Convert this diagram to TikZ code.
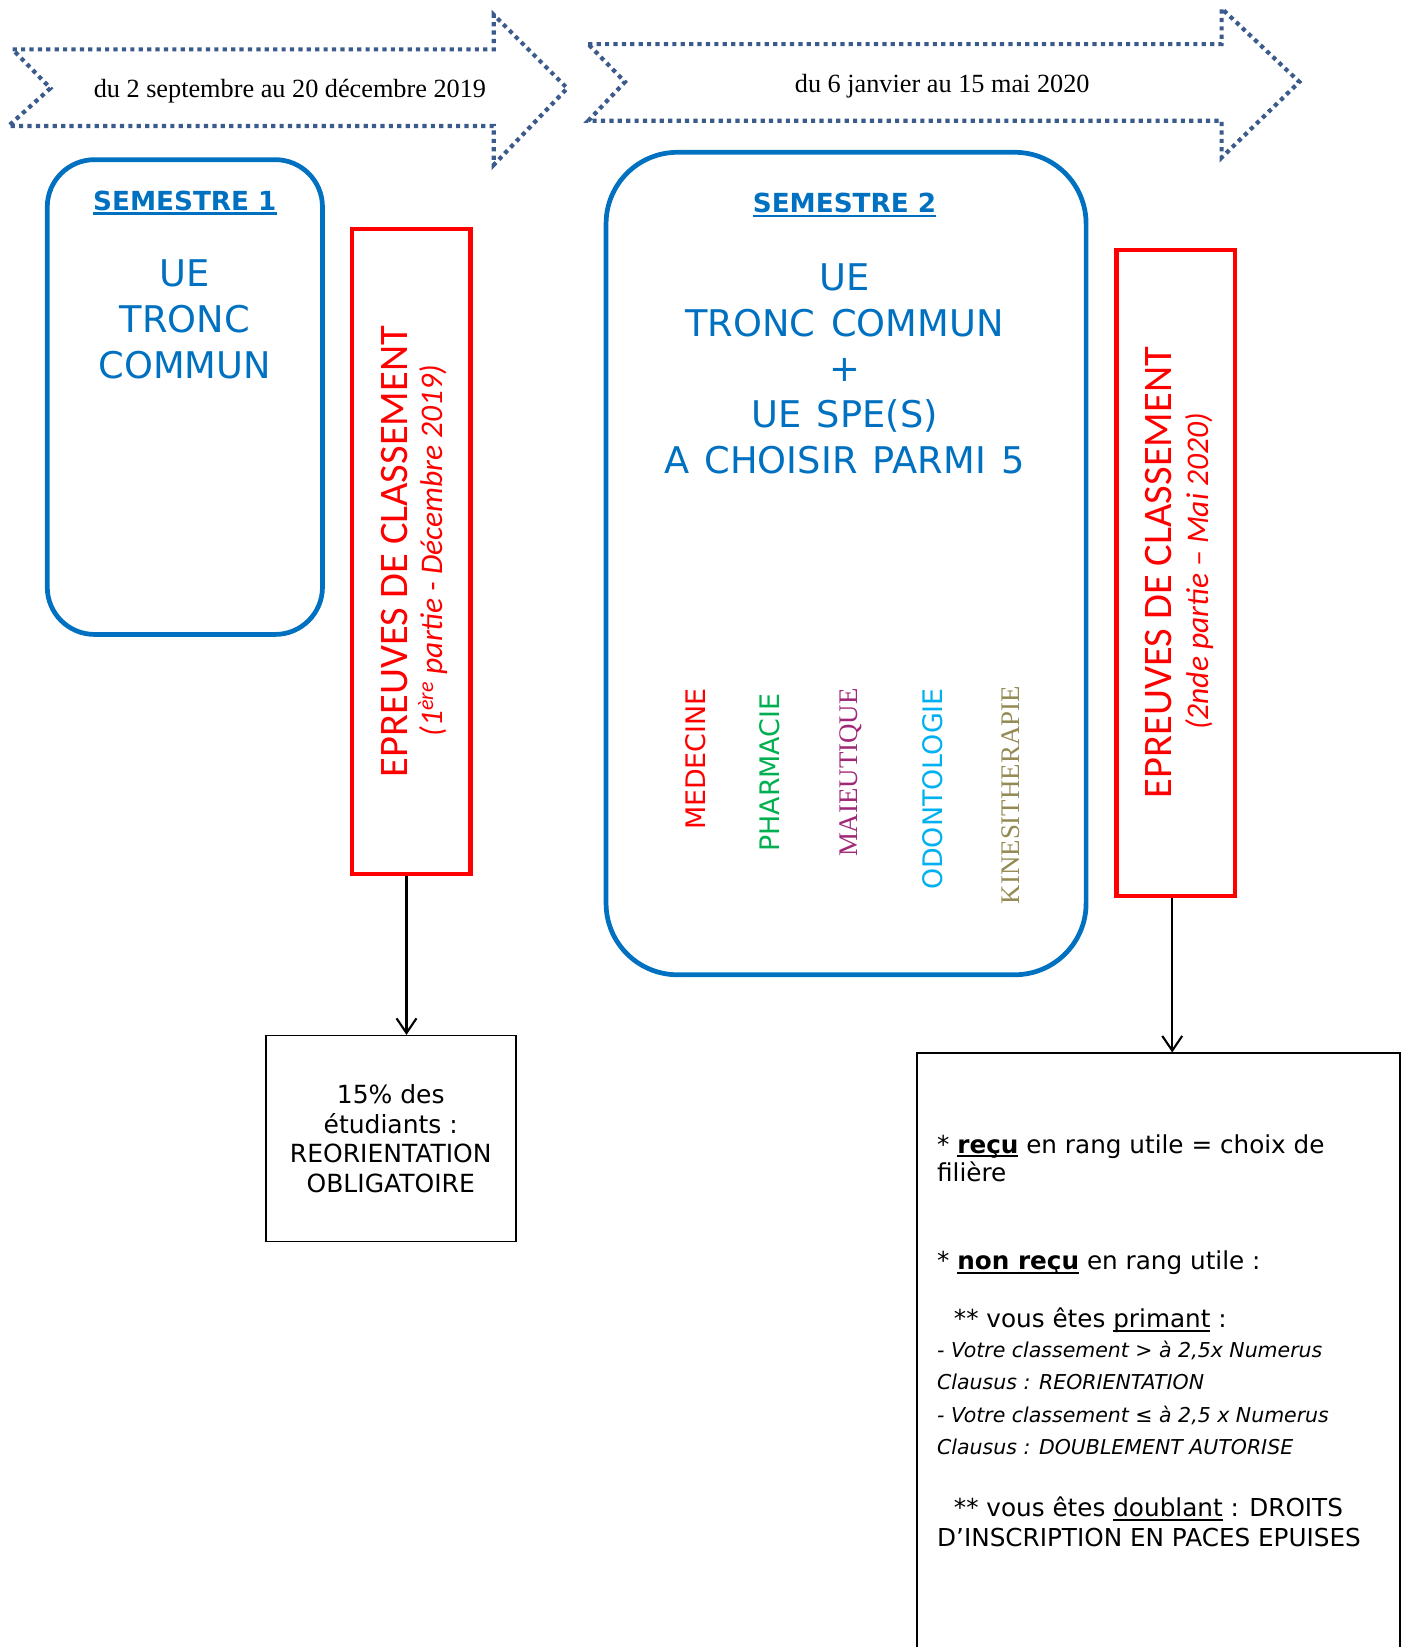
\documentclass[tikz,border=0pt]{standalone}
\usepackage{fontspec}
\setmainfont{Liberation Serif}
\newfontfamily\verd{DejaVu Sans}[ItalicFont={DejaVu Sans Oblique},BoldFont={DejaVu Sans Bold}]
\newfontfamily\calib{Carlito}
\usetikzlibrary{arrows.meta}
\definecolor{arrowblue}{RGB}{59,91,140}
\definecolor{semblue}{RGB}{0,112,192}
\definecolor{medred}{RGB}{255,0,0}
\definecolor{pharmgreen}{RGB}{0,176,80}
\definecolor{maiepurple}{RGB}{160,40,120}
\definecolor{odoncyan}{RGB}{0,176,240}
\definecolor{kineolive}{RGB}{148,138,84}
\newcommand\myul[1]{\setbox0\hbox{#1}\rlap{\rule[-0.16em]{\wd0}{0.08em}}\box0\relax}
\newcommand\widesp{\spaceskip=0.42em\relax}
\begin{document}
\begin{tikzpicture}[x=1bp,y=-1bp,
  dotarrow/.style={draw=arrowblue, line width=4bp, dash pattern=on 4bp off 4bp},
  datetext/.style={font=\fontsize{25bp}{30bp}\selectfont, inner sep=0},
  semibox/.style={draw=semblue, line width=4.5bp, rectangle, inner sep=0},
  semtitle/.style={text=semblue, font=\verd\bfseries\fontsize{25bp}{30bp}\selectfont, inner sep=0},
  uetext/.style={text=semblue, align=center, font=\verd\fontsize{35bp}{43.5bp}\selectfont\widesp, inner sep=0},
  redbox/.style={draw=red, line width=4bp, rectangle, inner sep=0},
  redmain/.style={rotate=90, text=red, font=\calib\fontsize{38.5bp}{46bp}\selectfont, inner sep=0},
  redsub/.style={rotate=90, text=red, font=\calib\itshape\fontsize{30bp}{36bp}\selectfont, inner sep=0},
  spe/.style={rotate=90, anchor=east, inner sep=0},
  spesans/.style={spe, font=\verd\fontsize{25.6bp}{30bp}\selectfont},
  speserif/.style={spe, font=\rmfamily\fontsize{25.6bp}{30bp}\selectfont},
  blackbox/.style={draw=black, line width=1.5bp, rectangle, inner sep=0},
  rl/.style={anchor=base west, inner sep=0, font=\verd\fontsize{23.5bp}{28bp}\selectfont},
  ri/.style={anchor=base west, inner sep=0, font=\verd\itshape\fontsize{19.5bp}{24bp}\selectfont},
  conn/.style={draw=black, line width=2bp, -{Straight Barb[length=14bp,width=19bp]}}
]
\useasboundingbox (0,0) rectangle (1338,1568);

% date arrows
\draw[dotarrow] (12,47) -- (470,47) -- (470,14) -- (540,84) -- (470,157) -- (470,120) -- (8,120) -- (48,84) -- cycle;
\node[datetext] (d1) at (276,87) {du 2 septembre au 20 décembre 2019};
\draw[dotarrow] (560,42) -- (1163,42) -- (1163,8) -- (1237,78) -- (1163,150) -- (1163,115) -- (560,115) -- (595,78) -- cycle;
\node[datetext] (d2) at (897,82) {du 6 janvier au 15 mai 2020};

% semester boxes
\node[semibox, rounded corners=45bp, minimum width=262bp, minimum height=452bp] (s1) at (176,378) {};
\node[semtitle] (t1) at (176,193) {\myul{SEMESTRE 1}};
\node[uetext] (u1) at (176,304) {UE\\TRONC\\COMMUN};

\node[semibox, rounded corners=68bp, minimum width=457bp, minimum height=783bp] (s2) at (805.5,536.5) {};
\node[semtitle] (t2) at (804,195) {\myul{SEMESTRE 2}};
\node[uetext] (u2) at (804,351) {UE\\TRONC COMMUN\\+\\UE SPE(S)\\A CHOISIR PARMI 5};

\node[spesans, text=medred] (m1) at (662,655) {MEDECINE};
\node[spesans, text=pharmgreen] (m2) at (733,660) {PHARMACIE};
\node[speserif, text=maiepurple] (m3) at (810,655) {MAIEUTIQUE};
\node[spesans, text=odoncyan] (m4) at (888,655) {ODONTOLOGIE};
\node[speserif, text=kineolive] (m5) at (962,653) {KINESITHERAPIE};

% red boxes
\node[redbox, minimum width=113bp, minimum height=614bp] (r1) at (391.5,525) {};
\node[redmain] (e1) at (376,525) {EPREUVES DE CLASSEMENT};
\node[redsub] (p1) at (412,524) {(1\textsuperscript{ère} partie - Décembre 2019)};

\node[redbox, minimum width=113bp, minimum height=615bp] (r2) at (1119.5,545.5) {};
\node[redmain] (e2) at (1103,545) {EPREUVES DE CLASSEMENT};
\node[redsub] (p2) at (1142,544) {(2nde partie – Mai 2020)};

% result boxes
\node[blackbox, minimum width=238bp, minimum height=196bp, align=center, font=\verd\fontsize{23.8bp}{28bp}\selectfont] (b1) at (372,1084) {15\% des\\étudiants :\\REORIENTATION\\OBLIGATOIRE};

\node[blackbox, anchor=north, minimum width=460bp, minimum height=700bp] (b2) at (1103,1002) {};
\node[rl] (l1) at (892,1098) {* \myul{\bfseries reçu} en rang utile = choix de};
\node[rl] (l2) at (892,1125) {filière};
\node[rl] (l3) at (892,1209) {* \myul{\bfseries non reçu} en rang utile :};
\node[rl] (l4) at (908,1264) {** vous êtes \myul{primant} :};
\node[ri] (l5) at (892,1292) {- Votre classement > à 2,5x Numerus};
\node[ri] (l6) at (892,1323) {Clausus : REORIENTATION};
\node[ri] (l7) at (892,1354) {- Votre classement ≤ à 2,5 x Numerus};
\node[ri] (l8) at (892,1385) {Clausus : DOUBLEMENT AUTORISE};
\node[rl] (l9) at (908,1444) {** vous êtes \myul{doublant} : DROITS};
\node[rl] (l10) at (892,1472) {D’INSCRIPTION EN PACES EPUISES};

% connectors
\draw[conn] ([xshift=-4.5bp]r1.south) -- ([xshift=-4.5bp]r1.south |- b1.north);
\draw[conn] ([xshift=-3.5bp]r2.south) -- ([xshift=-3.5bp]r2.south |- b2.north);
\end{tikzpicture}
\end{document}
